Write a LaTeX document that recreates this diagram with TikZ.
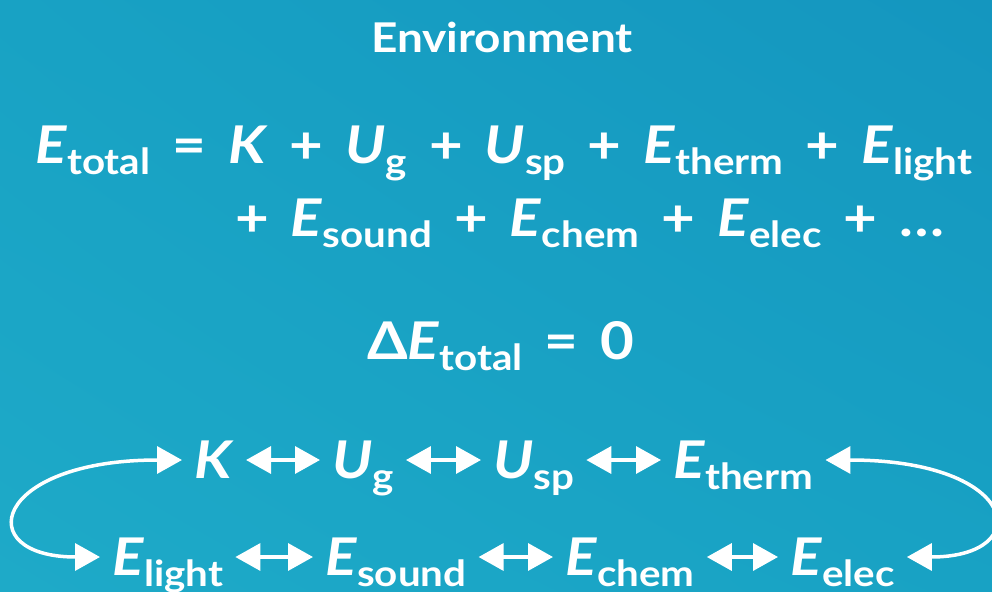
\documentclass[tikz,border=0pt]{standalone}
\usepackage{fontspec}
\setmainfont{Lato}[FakeStretch=1.12]
\usetikzlibrary{arrows.meta,shadings}

\definecolor{bgdark}{HTML}{1496BF}
\definecolor{bgmid}{HTML}{18A2C4}
\definecolor{bglight}{HTML}{1EAAC8}

% energy term with a subscript
\newcommand{\en}[2]{\textit{#1}\raisebox{-0.22em}{\fontsize{36}{36}\selectfont #2}}
\newcommand{\gp}{\hspace{22pt}}

\begin{document}
\begin{tikzpicture}[x=1pt, y=-1pt,
    title/.style={text=white, font=\fontsize{41}{48}\selectfont\bfseries, anchor=base},
    eq/.style={text=white, font=\fontsize{52}{60}\selectfont\bfseries, inner sep=0pt, anchor=base west},
    term/.style={text=white, font=\fontsize{52}{60}\selectfont\bfseries, inner xsep=12pt, inner ysep=0pt, text height=36pt, text depth=0pt, anchor=base west},
    swap/.style={{Triangle[length=25pt,width=27pt]}-{Triangle[length=25pt,width=27pt]}, white, line width=3.5pt}
]

% Background
\shade[lower left=bglight, upper right=bgdark, upper left=bgmid, lower right=bgmid] (0,591) rectangle (992,0);
\useasboundingbox (0,0) rectangle (992,591);

% Title
\node[title] (env) at (502,53) {Environment};

% Total energy
\node[eq] (line1) at (35,163) {\en{E}{total}\gp=\gp\textit{K}\gp+\gp\en{U}{g}\gp+\gp\en{U}{sp}\gp+\gp\en{E}{therm}\gp+\gp\en{E}{light}};
\node[eq] (line2) at (235,236) {+\gp\en{E}{sound}\gp+\gp\en{E}{chem}\gp+\gp\en{E}{elec}\gp+\gp…};

% Conservation
\node[eq] (cons) at (367,359) {Δ\en{E}{total}\gp=\gp0};

% Energy forms, first row
\node[term] (K) at (182,478) {\textit{K}};
\node[term] (Ug) at (320,478) {\en{U}{g}};
\node[term] (Usp) at (481,478) {\en{U}{sp}};
\node[term] (Etherm) at (661,478) {\en{E}{therm}};

% Energy forms, second row
\node[term] (Elight) at (100,575) {\en{E}{light}};
\node[term] (Esound) at (313,575) {\en{E}{sound}};
\node[term] (Echem) at (553,575) {\en{E}{chem}};
\node[term] (Eelec) at (778,575) {\en{E}{elec}};

% Arrows
\draw[swap] (K) -- (Ug);
\draw[swap] (Ug) -- (Usp);
\draw[swap] (Usp) -- (Etherm);
\draw[swap] (Elight) -- (Esound);
\draw[swap] (Esound) -- (Echem);
\draw[swap] (Echem) -- (Eelec);

% Wrap-around arrows
\draw[swap] (K.west) .. controls +(-190,0) and +(-130,0) .. (Elight.west);
\draw[swap] (Etherm.east) .. controls +(195,0) and +(130,0) .. (Eelec.east);

\end{tikzpicture}
\end{document}
